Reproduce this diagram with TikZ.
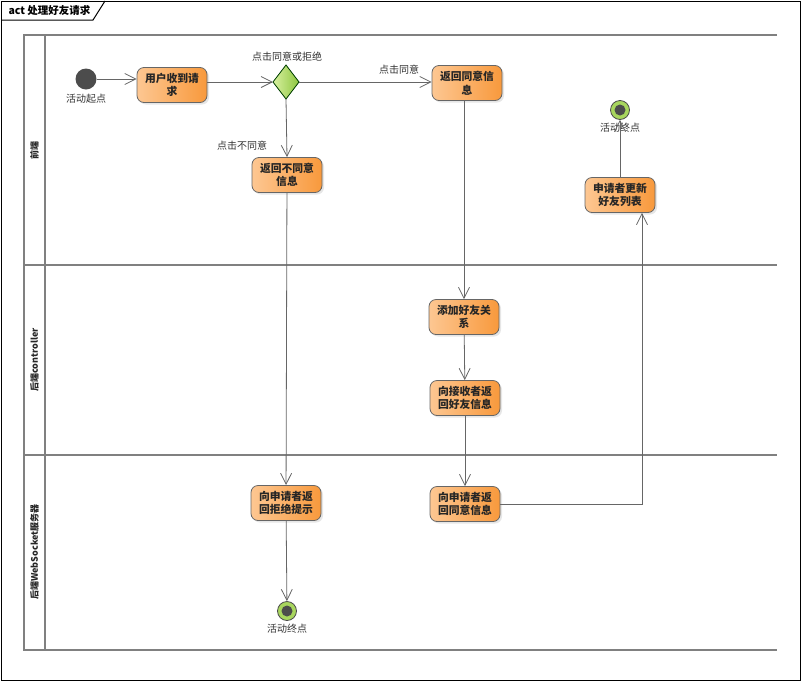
\documentclass[tikz,border=0pt]{standalone}
\usepackage{fontspec}
\setmainfont{Noto Sans CJK SC}
\usepackage{tikz}
\usetikzlibrary{arrows.meta,shadows}
\definecolor{actlight}{HTML}{FDC792}
\definecolor{actdark}{HTML}{F8993C}
\definecolor{declight}{HTML}{D8F0A0}
\definecolor{decdark}{HTML}{8DC63F}
\definecolor{endgreen}{HTML}{A8D65E}
\tikzset{
	action/.style={draw=black!60, line width=0.8pt, rounded corners=7pt, minimum width=70pt, minimum height=35pt, left color=actlight, right color=actdark, align=center, text=black!85, font=\bfseries\fontsize{10.8}{13.5}\selectfont, inner sep=2pt, drop shadow={shadow xshift=2pt, shadow yshift=-2pt, opacity=0.2}},
	decision/.style={left color=declight, right color=decdark},
	flow/.style={draw=black!60, line width=0.8pt, -{Straight Barb[length=11pt,width=11pt,line width=0.8pt]}},
	lane/.style={draw=black!50, line width=1.6pt},
	lanetext/.style={rotate=90, font=\bfseries\fontsize{9}{11}\selectfont, text=black!85},
	note/.style={font=\fontsize{10}{12}\selectfont, text=black!80}
}
\def\enddot(#1)(#2){\node[draw=black!70, line width=0.8pt, fill=endgreen, circle, minimum size=19pt, inner sep=0pt] (#2) at (#1) {};
	\fill[black!70] (#2) circle (5.5);}

\begin{document}
\begin{tikzpicture}[x=1pt, y=-1pt]
		%%%%% START %%%%%
		\useasboundingbox (0,0) rectangle (801,681);
		\draw[line width=1pt] (1,1) rectangle (800,680);
		\draw[line width=1pt] (1,20) -- (93,20) -- (105,1);
		\node[anchor=west, font=\bfseries\fontsize{10.5}{12}\selectfont] (title) at (5,11) {act 处理好友请求};
		
		% swimlanes
		\draw[lane] (777,35) -- (24,35) -- (24,650) -- (777,650);
		\draw[lane] (45,35) -- (45,650);
		\draw[lane] (24,265) -- (777,265);
		\draw[lane] (24,455) -- (777,455);
		\node[lanetext] (front) at (34.5,150) {前端};
		\node[lanetext] (ctrl) at (34.5,360) {后端controller};
		\node[lanetext] (ws) at (34.5,552) {后端WebSocket服务器};
		
		% nodes
		\node[circle, fill=black!70, minimum size=21pt, inner sep=0pt] (start) at (86,79) {};
		\node[note, below=1pt] (startlbl) at (start.south) {活动起点};
		\node[action] (recv) at (172,85) {用户收到请\\求};
		\coordinate (dec) at (286,82);
		\coordinate (decN) at (286,65);
		\coordinate (decE) at (299,82);
		\coordinate (decS) at (286,99);
		\coordinate (decW) at (273,82);
		\fill[decision] (decN) -- (decE) -- (decS) -- (decW) -- cycle;
		\draw[draw=black!50!green!50!black, line width=0.8pt] (decN) -- (decE) -- (decS) -- (decW) -- cycle;
		\node[note] (declbl) at (287,57) {点击同意或拒绝};
		\node[action] (agree) at (467,83) {返回同意信\\息};
		\node[note] (agreelbl) at (399,70) {点击同意};
		\node[action] (refuse) at (287,175) {返回不同意\\信息};
		\node[note] (refuselbl) at (242,146) {点击不同意};
		\enddot(620,110)(endtop)
		\node[note, below=0pt] (endtoplbl) at (endtop.south) {活动终点};
		\node[action] (update) at (620,195) {申请者更新\\好友列表};
		\node[action] (addrel) at (464,317) {添加好友关\\系};
		\node[action] (torecv) at (465,398) {向接收者返\\回好友信息};
		\node[action] (sendok) at (465,504) {向申请者返\\回同意信息};
		\node[action] (sendno) at (286,503) {向申请者返\\回拒绝提示};
		\enddot(287,611)(endbot)
		\node[note, below=0pt] (endbotlbl) at (endbot.south) {活动终点};
		
		% flows
		\draw[flow] (start) -- (recv.west |- start);
		\draw[flow] (recv.east |- dec) -- (decW);
		\draw[flow] (decE) -- (agree.west |- decE);
		\draw[flow] (decS) -- (refuse.north);
		\draw[flow] (agree.south -| addrel.north) -- (addrel.north);
		\draw[flow] (addrel) -- (torecv);
		\draw[flow] (torecv) -- (sendok);
		\coordinate (turn) at (642,504);
		\draw[flow] (sendok.east) -- (turn) -- (update.south -| turn);
		\draw[flow] (update) -- (endtop);
		\draw[flow] (refuse) -- (sendno);
		\draw[flow] (sendno) -- (endbot);
		%%%%% END %%%%%
\end{tikzpicture}
\end{document}
